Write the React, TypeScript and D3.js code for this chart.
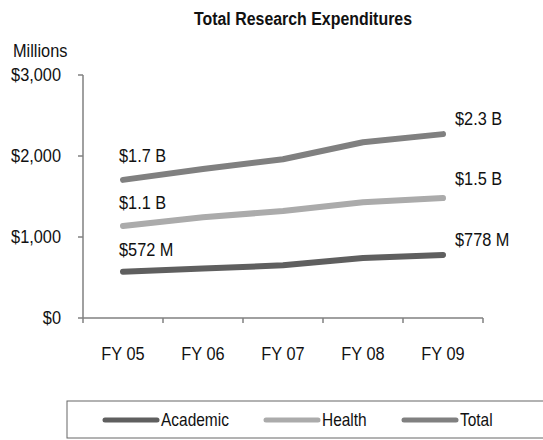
import React from "react";
import * as d3 from "d3";

const categories = ["FY 05", "FY 06", "FY 07", "FY 08", "FY 09"];
const academic = [572, 610, 650, 740, 778];
const health = [1136, 1245, 1320, 1430, 1480];
const total = [1705, 1840, 1960, 2170, 2270];
const yTicks = [0, 1000, 2000, 3000];
const seriesNames = ["Academic", "Health", "Total"];
const startLabels = ["$572 M", "$1.1 B", "$1.7 B"];
const endLabels = ["$778 M", "$1.5 B", "$2.3 B"];
const colors = ["#5f5f5f", "#ababab", "#808080"];

const FONT = "'Liberation Sans', Arial, sans-serif";
const SX = 0.86;

function NText(props: {
  x: number;
  y: number;
  size?: number;
  anchor?: "start" | "middle" | "end";
  bold?: boolean;
  children: React.ReactNode;
}) {
  const { x, y, size = 19, anchor = "start", bold = false, children } = props;
  return (
    <text
      transform={`translate(${x},${y}) scale(${SX},1)`}
      dy="0.35em"
      textAnchor={anchor}
      fontSize={size}
      fontWeight={bold ? "bold" : "normal"}
      fill="#111"
    >
      {children}
    </text>
  );
}

export default function App() {
  const W = 543, H = 440;
  const x0 = 83, x1 = 483, yTop = 75, yBot = 318;
  const x = d3.scaleBand<string>().domain(categories).range([x0, x1]);
  const y = d3.scaleLinear().domain([0, 3000]).range([yBot, yTop]);
  const cx = (c: string) => (x(c) as number) + x.bandwidth() / 2;
  const line = d3.line<number>().x((_, i) => cx(categories[i])).y((d) => y(d));
  const series = [academic, health, total];
  const startOffsets = [-22, -24, -25];
  const endOffsets = [-16, -20, -16];
  const legendX = [105, 266, 404];

  return (
    <svg width={W} height={H} style={{ position: "absolute", left: 0, top: 0 }} fontFamily={FONT}>
      <rect width={W} height={H} fill="#fff" />
      <NText x={303} y={19} anchor="middle" bold size={18.5}>
        Total Research Expenditures
      </NText>
      <NText x={13} y={50}>Millions</NText>
      {/* y axis */}
      <line x1={x0} x2={x0} y1={yTop} y2={yBot} stroke="#808080" strokeWidth={1.5} />
      {yTicks.map((t) => (
        <g key={t}>
          <line x1={x0 - 5} x2={x0} y1={y(t)} y2={y(t)} stroke="#808080" strokeWidth={1.5} />
          <NText x={x0 - 22} y={y(t) - 1} anchor="end">
            {d3.format("$,")(t)}
          </NText>
        </g>
      ))}
      {/* x axis */}
      <line x1={x0} x2={x1} y1={yBot} y2={yBot} stroke="#808080" strokeWidth={1.5} />
      {[...categories.map((c) => x(c) as number), x1].map((px, i) => (
        <line key={i} x1={px} x2={px} y1={yBot} y2={yBot + 5} stroke="#808080" strokeWidth={1.5} />
      ))}
      {categories.map((c) => (
        <NText key={c} x={cx(c)} y={353} anchor="middle">
          {c}
        </NText>
      ))}
      {series.map((s, i) => (
        <path key={i} d={line(s) as string} fill="none" stroke={colors[i]} strokeWidth={6} strokeLinecap="round" strokeLinejoin="round" />
      ))}
      {series.map((s, i) => (
        <g key={"l" + i}>
          <NText x={cx(categories[0]) - 4} y={y(s[0]) + startOffsets[i]}>
            {startLabels[i]}
          </NText>
          <NText x={cx(categories[4]) + 12} y={y(s[4]) + endOffsets[i]}>
            {endLabels[i]}
          </NText>
        </g>
      ))}
      {/* legend */}
      <rect x={67} y={401} width={500} height={37} fill="none" stroke="#666" strokeWidth={1} />
      {seriesNames.map((n, i) => (
        <g key={n}>
          <line x1={legendX[i]} x2={legendX[i] + 52} y1={420} y2={420} stroke={colors[i]} strokeWidth={5} strokeLinecap="round" />
          <NText x={legendX[i] + 56} y={420} size={18}>{n}</NText>
        </g>
      ))}
    </svg>
  );
}
